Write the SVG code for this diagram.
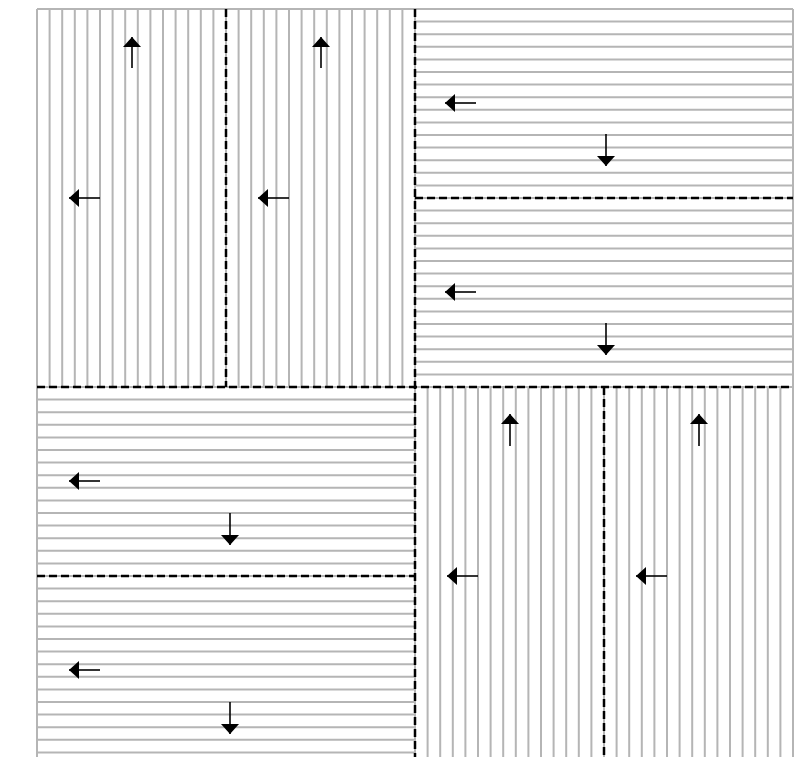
<svg xmlns="http://www.w3.org/2000/svg" width="810" height="757" viewBox="0 0 810 757">
<style>
.grid{fill:none;stroke:#b5b5b5;stroke-width:2}
.seam{fill:none;stroke:#000;stroke-width:2.5;stroke-dasharray:8 4}
.arr{fill:none;stroke:#000;stroke-width:1.6;marker-end:url(#head)}
</style>
<defs>
<marker id="head" viewBox="0 0 10 18" refX="10" refY="9" markerWidth="10" markerHeight="18" markerUnits="userSpaceOnUse" orient="auto">
<path d="M0,0 L10,9 L0,18 z" fill="#000"/>
</marker>
</defs>
<rect width="810" height="757" fill="#fff"/>
<g id="top-left">
<path class="grid" d="M37,9V387M49.6,9V387M62.2,9V387M74.8,9V387M87.4,9V387M100,9V387M112.6,9V387M125.2,9V387M137.8,9V387M150.4,9V387M163,9V387M175.6,9V387M188.2,9V387M200.8,9V387M213.4,9V387M226,9V387M238.6,9V387M251.2,9V387M263.8,9V387M276.4,9V387M289,9V387M301.6,9V387M314.2,9V387M326.8,9V387M339.4,9V387M352,9V387M364.6,9V387M377.2,9V387M389.8,9V387M402.4,9V387M415,9V387M37,9H415"/>
</g>
<g id="top-right">
<path class="grid" d="M415,9H793M415,21.6H793M415,34.2H793M415,46.8H793M415,59.4H793M415,72H793M415,84.6H793M415,97.2H793M415,109.8H793M415,122.4H793M415,135H793M415,147.6H793M415,160.2H793M415,172.8H793M415,185.4H793M415,198H793M415,210.6H793M415,223.2H793M415,235.8H793M415,248.4H793M415,261H793M415,273.6H793M415,286.2H793M415,298.8H793M415,311.4H793M415,324H793M415,336.6H793M415,349.2H793M415,361.8H793M415,374.4H793M415,387H793M793,9V387"/>
</g>
<g id="bottom-left">
<path class="grid" d="M37,387H415M37,399.6H415M37,412.2H415M37,424.8H415M37,437.4H415M37,450H415M37,462.6H415M37,475.2H415M37,487.8H415M37,500.4H415M37,513H415M37,525.6H415M37,538.2H415M37,550.8H415M37,563.4H415M37,576H415M37,588.6H415M37,601.2H415M37,613.8H415M37,626.4H415M37,639H415M37,651.6H415M37,664.2H415M37,676.8H415M37,689.4H415M37,702H415M37,714.6H415M37,727.2H415M37,739.8H415M37,752.4H415M37,387V765"/>
</g>
<g id="bottom-right">
<path class="grid" d="M415,387V765M427.6,387V765M440.2,387V765M452.8,387V765M465.4,387V765M478,387V765M490.6,387V765M503.2,387V765M515.8,387V765M528.4,387V765M541,387V765M553.6,387V765M566.2,387V765M578.8,387V765M591.4,387V765M604,387V765M616.6,387V765M629.2,387V765M641.8,387V765M654.4,387V765M667,387V765M679.6,387V765M692.2,387V765M704.8,387V765M717.4,387V765M730,387V765M742.6,387V765M755.2,387V765M767.8,387V765M780.4,387V765M793,387V765"/>
</g>
<g id="seams">
<path class="seam" d="M415,9V765"/>
<path class="seam" d="M37,387H793"/>
<path class="seam" d="M226,9V387"/>
<path class="seam" d="M415,198H793"/>
<path class="seam" d="M37,576H415"/>
<path class="seam" d="M604,387V765"/>
</g>
<g id="connectors">
<path class="arr" d="M132,68V37"/>
<path class="arr" d="M100,198H69"/>
<path class="arr" d="M321,68V37"/>
<path class="arr" d="M289,198H258"/>
<path class="arr" d="M476,103H445"/>
<path class="arr" d="M606,134V166"/>
<path class="arr" d="M476,292H445"/>
<path class="arr" d="M606,323V355"/>
<path class="arr" d="M100,481H69"/>
<path class="arr" d="M230,513V545"/>
<path class="arr" d="M100,670H69"/>
<path class="arr" d="M230,702V734"/>
<path class="arr" d="M510,446V414"/>
<path class="arr" d="M478,576H447"/>
<path class="arr" d="M699,446V414"/>
<path class="arr" d="M667,576H636"/>
</g>
</svg>
